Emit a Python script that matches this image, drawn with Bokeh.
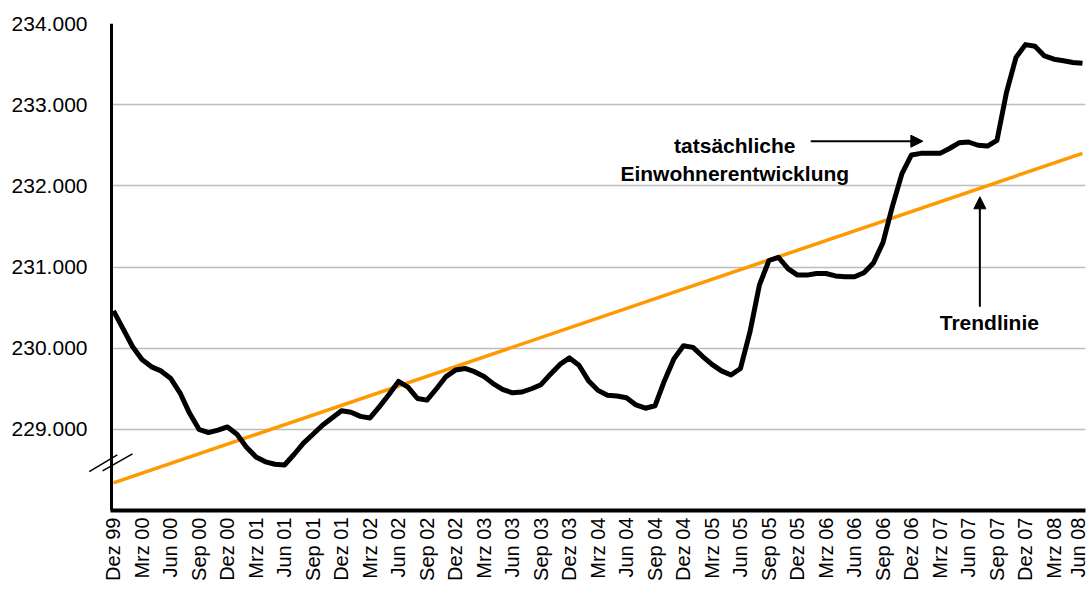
from bokeh.plotting import figure
from bokeh.models import (Range1d, FixedTicker, Label, Arrow, NormalHead, BoxAnnotation,
                          LinearAxis)
from bokeh.embed import file_html
from bokeh.resources import INLINE
import math

# ---- data ----
x_labels = ["Dez 99", "Mrz 00", "Jun 00", "Sep 00", "Dez 00", "Mrz 01", "Jun 01", "Sep 01",
            "Dez 01", "Mrz 02", "Jun 02", "Sep 02", "Dez 02", "Mrz 03", "Jun 03", "Sep 03",
            "Dez 03", "Mrz 04", "Jun 04", "Sep 04", "Dez 04", "Mrz 05", "Jun 05", "Sep 05",
            "Dez 05", "Mrz 06", "Jun 06", "Sep 06", "Dez 06", "Mrz 07", "Jun 07", "Sep 07",
            "Dez 07", "Mrz 08", "Jun 08"]

# monthly population, Dez 99 .. Jun 08
einwohner = [230460, 230240, 230020, 229860, 229770, 229720, 229630, 229450, 229200, 229000,
             228960, 228990, 229030, 228940, 228780, 228660, 228600, 228570, 228560, 228690,
             228830, 228940, 229050, 229140, 229230, 229210, 229160, 229140, 229280, 229430,
             229590, 229520, 229380, 229360, 229500, 229650, 229730, 229750, 229710, 229650,
             229560, 229490, 229450, 229460, 229500, 229550, 229680, 229800, 229880, 229790,
             229600, 229480, 229420, 229410, 229390, 229300, 229260, 229290, 229600, 229870,
             230030, 230010, 229900, 229800, 229720, 229670, 229750, 230200, 230780, 231080,
             231120, 230980, 230900, 230900, 230920, 230920, 230890, 230880, 230880, 230930,
             231050, 231300, 231750, 232150, 232380, 232400, 232400, 232400, 232460, 232530,
             232540, 232500, 232490, 232560, 233150, 233580, 233740, 233720, 233600, 233560,
             233540, 233520, 233510]

trend_start = 228340
trend_end = 232400

y_ticks = [229000, 230000, 231000, 232000, 233000, 234000]
y_tick_labels = ["229.000", "230.000", "231.000", "232.000", "233.000", "234.000"]

FONT = "Liberation Sans"

months = list(range(len(einwohner)))
tick_pos = [i * 3 for i in range(len(x_labels))]
AXIS_X = -0.2

p = figure(width=1088, height=596, output_backend="svg", toolbar_location=None,
           x_range=Range1d(-2.63, 102.32), y_range=Range1d(228000, 234000),
           min_border_left=88, min_border_right=3, min_border_top=23, min_border_bottom=86)
p.outline_line_color = None
p.background_fill_color = "white"
p.border_fill_color = "white"

# hide grid left of the y axis line
p.add_layout(BoxAnnotation(right=AXIS_X, fill_color="white", fill_alpha=1,
                           line_alpha=0, level="underlay"))

# trend line
p.line([months[0], months[-1]], [trend_start, trend_end], line_color="#FF9900", line_width=3.5)
# actual population
p.line(months, einwohner, line_color="black", line_width=5, line_join="round")

# x axis
p.xaxis.ticker = FixedTicker(ticks=tick_pos)
p.xaxis.major_label_overrides = {t: l for t, l in zip(tick_pos, x_labels)}
p.xaxis.major_label_orientation = math.pi / 2
p.xaxis.major_label_text_font = FONT
p.xaxis.major_label_text_font_size = "20px"
p.xaxis.major_label_text_color = "black"
p.xaxis.major_label_standoff = 7
p.xaxis.major_tick_line_color = None
p.xaxis.major_tick_out = 0
p.xaxis.minor_tick_line_color = None
p.xaxis.axis_line_width = 4
p.xaxis.axis_line_color = "black"
p.xaxis.bounds = (AXIS_X - 0.1, 102.32)

# y axis: labels on the regular left axis
p.yaxis.ticker = FixedTicker(ticks=y_ticks)
p.yaxis.major_label_overrides = {t: l for t, l in zip(y_ticks, y_tick_labels)}
p.yaxis.major_label_text_font = FONT
p.yaxis.major_label_text_font_size = "21px"
p.yaxis.major_label_text_color = "black"
p.yaxis.major_label_standoff = 1
p.yaxis.major_tick_line_color = None
p.yaxis.major_tick_out = 0
p.yaxis.major_tick_in = 0
p.yaxis.minor_tick_line_color = None
p.yaxis.axis_line_color = None

# y axis line at the first data point (leaves room for the break marks)
yline = LinearAxis(fixed_location=AXIS_X, ticker=FixedTicker(ticks=[]),
                   major_label_text_color=None, major_tick_line_color=None,
                   minor_tick_line_color=None, axis_line_width=3, axis_line_color="black")
p.add_layout(yline, "left")

p.xgrid.grid_line_color = None
p.ygrid.grid_line_color = "#BDBDBD"
p.ygrid.grid_line_width = 1.5

# axis break marks
for xs, ys, xe, ye in [(-2.55, 228480, 0.4, 228685), (-1.15, 228487, 2.0, 228697)]:
    p.add_layout(Arrow(end=None, x_start=xs, y_start=ys, x_end=xe, y_end=ye,
                       line_color="black", line_width=1.5))

# annotations
p.add_layout(Label(x=65.4, y=232500, text="tatsächliche", text_align="center",
                   text_baseline="middle", text_font=FONT, text_font_style="bold",
                   text_font_size="21px", text_color="black"))
p.add_layout(Label(x=65.4, y=232157, text="Einwohnerentwicklung", text_align="center",
                   text_baseline="middle", text_font=FONT, text_font_style="bold",
                   text_font_size="21px", text_color="black"))
p.add_layout(Arrow(end=NormalHead(size=12, fill_color="black", line_color="black"),
                   x_start=73.4, y_start=232550, x_end=85.2, y_end=232550,
                   line_color="black", line_width=2))
p.add_layout(Label(x=92.2, y=230322, text="Trendlinie", text_align="center",
                   text_baseline="middle", text_font=FONT, text_font_style="bold",
                   text_font_size="21px", text_color="black"))
p.add_layout(Arrow(end=NormalHead(size=12, fill_color="black", line_color="black"),
                   x_start=91.2, y_start=230510, x_end=91.2, y_end=231865,
                   line_color="black", line_width=2))

open("out.html", "w").write(file_html(p, INLINE))
